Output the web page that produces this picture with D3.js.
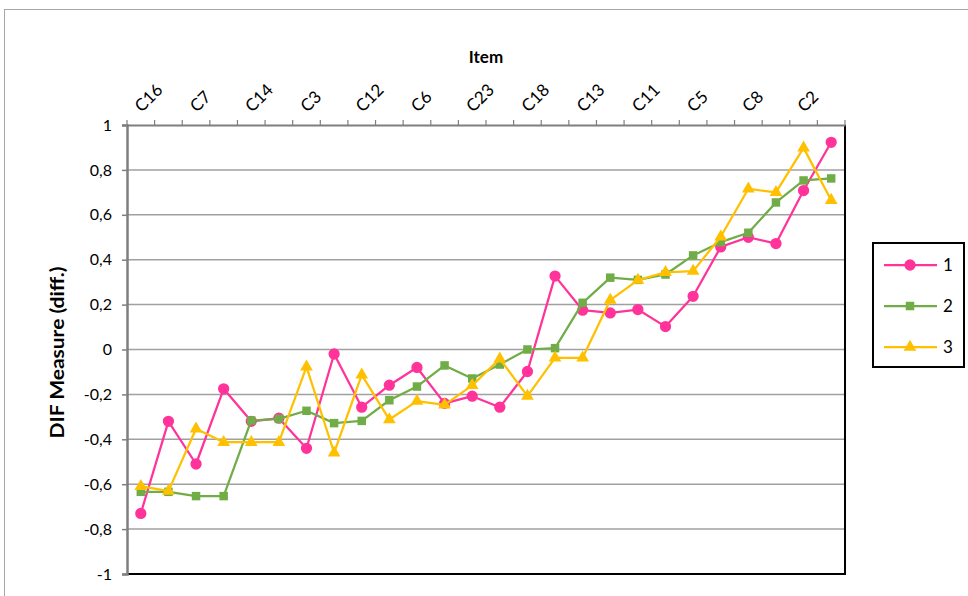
<!DOCTYPE html>
<html lang="en">
<head>
<meta charset="UTF-8">
<title>DIF Measure by Item</title>
<script src="https://d3js.org/d3.v7.min.js"></script>
<style>
  body { margin: 0; background: #fff; }
  text { font-family: Lato, "Open Sans", sans-serif; fill: #000; }
</style>
</head>
<body>
<svg width="968" height="596"></svg>
<script>
// 26 items along the x axis; only every other label is printed in the chart
const itemLabels = ["C16", "C7", "C14", "C3", "C12", "C6", "C23", "C18", "C13", "C11", "C5", "C8", "C2"];
const itemCount = 26;
const seriesNames = ["1", "2", "3"];
const series1 = [-0.73, -0.32, -0.51, -0.175, -0.32, -0.306, -0.44, -0.02, -0.257, -0.159, -0.08, -0.24, -0.208,
                 -0.257, -0.098, 0.327, 0.175, 0.163, 0.178, 0.102, 0.237, 0.457, 0.5, 0.472, 0.708, 0.923];
const series2 = [-0.634, -0.634, -0.653, -0.653, -0.316, -0.309, -0.273, -0.328, -0.318, -0.226, -0.165, -0.071, -0.129,
                 -0.067, 0.0, 0.006, 0.208, 0.32, 0.31, 0.334, 0.419, 0.478, 0.52, 0.655, 0.753, 0.762];
const series3 = [-0.609, -0.631, -0.353, -0.413, -0.413, -0.413, -0.077, -0.46, -0.113, -0.312, -0.23, -0.247, -0.16,
                 -0.042, -0.208, -0.037, -0.037, 0.22, 0.309, 0.344, 0.349, 0.502, 0.716, 0.70, 0.898, 0.665];
const yTicks = [1, 0.8, 0.6, 0.4, 0.2, 0, -0.2, -0.4, -0.6, -0.8, -1];

const colors = ["#ff3399", "#70ad47", "#ffc000"];
const symbols = [d3.symbolCircle, d3.symbolSquare, d3.symbolTriangle];
const symSizes = [100, 72, 70];
const allSeries = [series1, series2, series3];

const svg = d3.select("svg");
const plot = {left: 127, right: 845, top: 125, bottom: 574};

// chart outer border
svg.append("rect")
  .attr("x", 4.5).attr("y", 9.5)
  .attr("width", 980).attr("height", 600)
  .attr("fill", "#fff").attr("stroke", "#a6a6a6").attr("stroke-width", 1);

const idx = d3.range(itemCount);
const x = d3.scaleBand().domain(idx).range([plot.left, plot.right]);
const y = d3.scaleLinear().domain([-1, 1]).range([plot.bottom, plot.top]);
const cx = i => x(i) + x.bandwidth() / 2;

// gridlines
svg.append("g")
  .selectAll("line")
  .data(yTicks.filter(t => t !== 1 && t !== -1))
  .enter().append("line")
  .attr("x1", plot.left).attr("x2", plot.right)
  .attr("y1", d => y(d)).attr("y2", d => y(d))
  .attr("stroke", "#a0a0a0").attr("stroke-width", 1.5);

// plot area border (right + bottom)
svg.append("path")
  .attr("d", `M${plot.right},${plot.top}V${plot.bottom}H${plot.left}`)
  .attr("fill", "none").attr("stroke", "#000").attr("stroke-width", 2);

// left axis
const yAxis = svg.append("g")
  .attr("transform", `translate(${plot.left},0)`)
  .call(d3.axisLeft(y).tickValues(yTicks).tickSize(5).tickPadding(10)
    .tickFormat(d => String(d).replace(".", ",")));
yAxis.select(".domain").attr("stroke", "#7f7f7f").attr("stroke-width", 2.5);
yAxis.selectAll(".tick line").attr("stroke", "#7f7f7f").attr("stroke-width", 1.5);
yAxis.selectAll(".tick text").style("font-size", "16px");

// top axis with item labels
const xAxis = svg.append("g")
  .attr("transform", `translate(0,${plot.top})`)
  .call(d3.axisTop(x).tickSize(0).tickFormat(""));
xAxis.select(".domain").attr("stroke", "#7f7f7f").attr("stroke-width", 2);

svg.append("g")
  .selectAll("line")
  .data(d3.range(itemCount + 1))
  .enter().append("line")
  .attr("x1", d => plot.left + d * x.bandwidth())
  .attr("x2", d => plot.left + d * x.bandwidth())
  .attr("y1", plot.top - 5).attr("y2", plot.top)
  .attr("stroke", "#7f7f7f").attr("stroke-width", 1.2);

svg.append("g")
  .selectAll("text")
  .data(itemLabels)
  .enter().append("text")
  .attr("transform", (d, i) => `translate(${cx(i * 2) + 1},${plot.top - 12}) rotate(-45)`)
  .style("font-size", "17px")
  .text(d => d);

// axis titles
svg.append("text")
  .attr("x", 486).attr("y", 63)
  .attr("text-anchor", "middle")
  .style("font-size", "17px").style("font-weight", "bold")
  .text("Item");

svg.append("text")
  .attr("transform", `translate(64,${(plot.top + plot.bottom) / 2 + 3}) rotate(-90)`)
  .attr("text-anchor", "middle")
  .style("font-size", "19px").style("font-weight", "bold")
  .attr("textLength", 172).attr("lengthAdjust", "spacingAndGlyphs")
  .text("DIF Measure (diff.)");

// series lines + markers
const line = d3.line().x((d, i) => cx(i)).y(d => y(d));
allSeries.forEach((vals, s) => {
  svg.append("path")
    .datum(vals)
    .attr("d", line)
    .attr("fill", "none")
    .attr("stroke", colors[s])
    .attr("stroke-width", 2.25)
    .attr("stroke-linejoin", "round");
  svg.append("g")
    .selectAll("path")
    .data(vals)
    .enter().append("path")
    .attr("transform", (d, i) => `translate(${cx(i)},${y(d)})`)
    .attr("d", d3.symbol().type(symbols[s]).size(symSizes[s]))
    .attr("fill", colors[s]);
});

// legend
const legend = svg.append("g");
legend.append("rect")
  .attr("x", 873).attr("y", 243)
  .attr("width", 91).attr("height", 124)
  .attr("fill", "#fff").attr("stroke", "#000").attr("stroke-width", 2);
seriesNames.forEach((name, s) => {
  const ly = 265 + s * 41;
  legend.append("line")
    .attr("x1", 884).attr("x2", 937).attr("y1", ly).attr("y2", ly)
    .attr("stroke", colors[s]).attr("stroke-width", 2.25);
  legend.append("path")
    .attr("transform", `translate(910,${ly})`)
    .attr("d", d3.symbol().type(symbols[s]).size(symSizes[s]))
    .attr("fill", colors[s]);
  legend.append("text")
    .attr("x", 943).attr("y", ly + 6)
    .style("font-size", "17px")
    .text(name);
});
</script>
</body>
</html>
